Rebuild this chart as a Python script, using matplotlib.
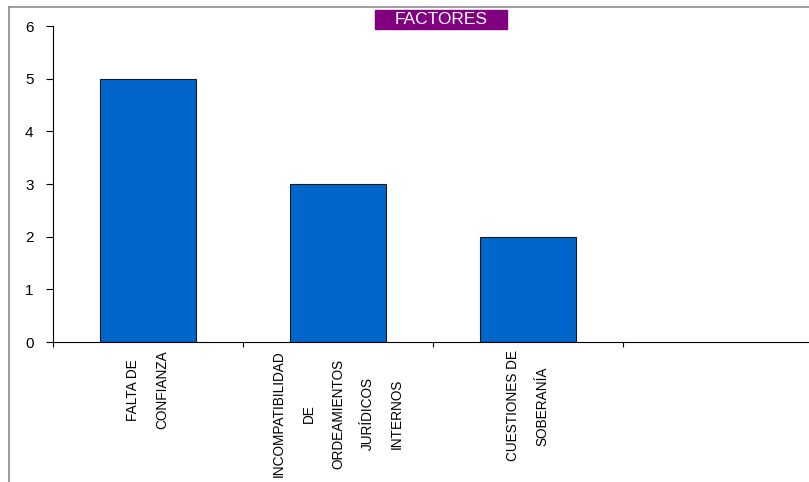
import matplotlib
matplotlib.use("Agg")
import matplotlib.pyplot as plt
from matplotlib.patches import Rectangle
from matplotlib.lines import Line2D

categories = ["FALTA DE\nCONFIANZA",
              "INCOMPATIBILIDAD\nDE\nORDEAMIENTOS\nJURÍDICOS\nINTERNOS",
              "CUESTIONES DE\nSOBERANÍA",
              ""]
values = [5, 3, 2, 0]
title = "FACTORES"
yticks = [0, 1, 2, 3, 4, 5, 6]

W, H = 809, 482
fonts = ["Liberation Sans", "DejaVu Sans"]
fig = plt.figure(figsize=(W / 100, H / 100), dpi=100)

# plot area runs past the right edge of the picture
ax = fig.add_axes([53 / W, 140 / H, 760 / W, 316 / H])
x = list(range(len(categories)))
ax.bar(x[:3], values[:3], width=0.505, color="#0066CC",
       edgecolor="#1a1a1a", linewidth=0.8, zorder=2)

ax.set_xlim(-0.5, len(categories) - 0.5)
ax.set_ylim(0, 6)
ax.set_yticks(yticks)
ax.set_yticklabels([str(v) for v in yticks], fontsize=11, family=fonts)
ax.tick_params(axis="y", length=5, width=0.8, pad=9, color="black")

# major ticks on category borders, labels on minor ticks
ax.set_xticks([i - 0.5 for i in range(len(categories) + 1)])
ax.set_xticklabels([])
ax.tick_params(axis="x", which="major", length=3.5, width=0.8, color="black")
ax.set_xticks(x, minor=True)
ax.set_xticklabels(categories, minor=True, rotation=90, fontsize=9.8,
                   family=fonts, multialignment="center", linespacing=2.4)
ax.tick_params(axis="x", which="minor", length=0, pad=6)

for s in ["top", "right"]:
    ax.spines[s].set_visible(False)
ax.spines["left"].set_linewidth(0.8)
ax.spines["bottom"].set_linewidth(0.8)

# outer chart frame (only top and left edges visible)
fig.add_artist(Line2D([9 / W, 1], [1 - 7 / H, 1 - 7 / H],
                      transform=fig.transFigure, color="#8c8c8c", lw=1.2))
fig.add_artist(Line2D([9 / W, 9 / W], [0, 1 - 7 / H],
                      transform=fig.transFigure, color="#8c8c8c", lw=1.2))

# title box
fig.add_artist(Rectangle((375 / W, 1 - 29 / H), 132 / W, 19 / H,
                         transform=fig.transFigure, color="#800080"))
fig.text(441 / W, 1 - 19.5 / H, title, color="white", fontsize=12.5,
         ha="center", va="center", family=fonts)

fig.savefig("out.png", dpi=100)
